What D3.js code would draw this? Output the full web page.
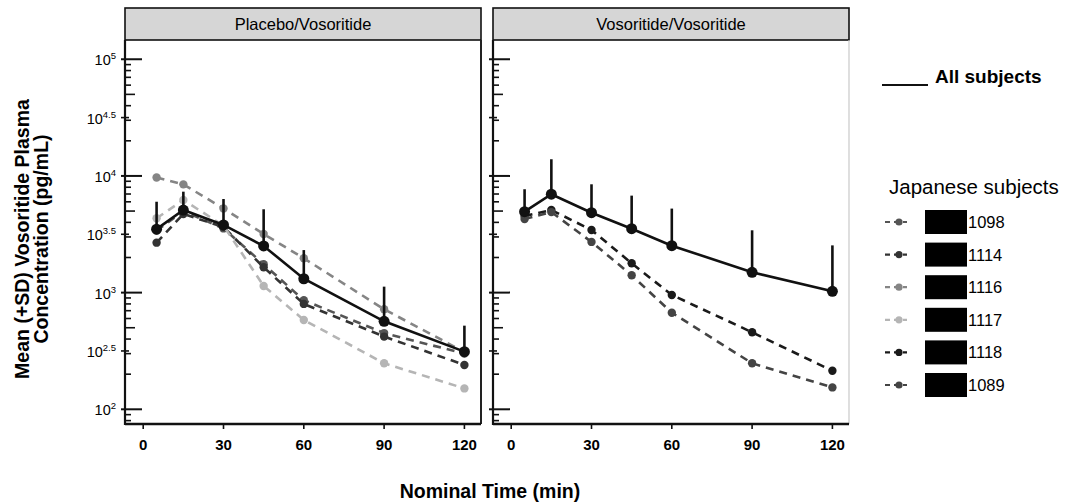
<!DOCTYPE html>
<html>
<head>
<meta charset="utf-8">
<script src="https://cdn.jsdelivr.net/npm/d3@7"></script>
<style>
  body { margin: 0; background: #fff; }
  svg { display: block; }
  text { font-family: "Liberation Sans", Arial, Helvetica, sans-serif; fill: #000; }
</style>
</head>
<body>
<svg id="chart" width="1067" height="504"></svg>
<script>
// Nominal sampling times (min)
const times = [5, 15, 30, 45, 60, 90, 120];

// Panel (treatment sequence) titles
const panelTitles = ["Placebo/Vosoritide", "Vosoritide/Vosoritide"];

// All subjects: mean and SD (pg/mL)
const meanPlacebo = [3500, 5100, 3800, 2510, 1315, 568, 312];
const sdPlacebo   = [2510, 2230, 2540, 2670, 1000, 557, 209];
const meanVosoritide = [4940, 6970, 4840, 3530, 2525, 1494, 1026];
const sdVosoritide   = [2750, 6930, 3640, 3250, 2725, 1926, 1514];

// Japanese subjects: individual concentrations (pg/mL)
const subjectIds = ["1098", "1114", "1116", "1117", "1118", "1089"];
const subjectPanel = [0, 0, 0, 0, 1, 1];
const conc1098 = [3400, 5000, 3550, 1750, 860, 450, 300];
const conc1114 = [2680, 4720, 3650, 1650, 800, 420, 240];
const conc1116 = [9700, 8470, 5260, 3180, 1970, 720, 310];
const conc1117 = [4340, 6220, 3750, 1140, 583, 248, 151];
const conc1118 = [4540, 5100, 3445, 1783, 955, 457, 214];
const conc1089 = [4280, 4900, 2720, 1409, 673, 248, 154];
const subjectColors = ["#555555", "#333333", "#858585", "#b5b5b5", "#1a1a1a", "#444444"];

// Axis ticks
const xTicks = [0, 30, 60, 90, 120];
const yLabelExponents = [2, 2.5, 3, 3.5, 4, 4.5, 5];

const subjectConc = [conc1098, conc1114, conc1116, conc1117, conc1118, conc1089];
const panelMeans = [meanPlacebo, meanVosoritide];
const panelSDs = [sdPlacebo, sdVosoritide];

const svg = d3.select("#chart");
svg.append("rect").attr("width", 1067).attr("height", 504).attr("fill", "#fff");

const plotTop = 40, plotBottom = 424, panelWidth = 356;
const panelLeft = [125, 493];
const stripTop = 8;

const y = d3.scaleLog().domain([Math.pow(10, 1.874), Math.pow(10, 5.165)]).range([plotBottom, plotTop]);

// log-axis minor ticks: 2..9 x 10^n inside the domain
const minorTicks = [];
for (let d = 1; d <= 4; d++) {
  for (let k = 2; k <= 9; k++) {
    const v = k * Math.pow(10, d);
    if (v >= y.domain()[0] && v <= y.domain()[1]) minorTicks.push(v);
  }
}
const decadeTicks = [100, 1000, 10000, 100000];

panelTitles.forEach((title, p) => {
  const x0 = panelLeft[p];
  const x = d3.scaleLinear().domain([-6.8, 126.2]).range([x0, x0 + panelWidth]);
  const g = svg.append("g");

  // strip header
  g.append("rect")
    .attr("x", x0).attr("y", stripTop)
    .attr("width", panelWidth).attr("height", plotTop - stripTop)
    .attr("fill", "#d6d6d6").attr("stroke", "#111").attr("stroke-width", 1.6);
  g.append("text")
    .attr("x", x0 + panelWidth / 2).attr("y", 30)
    .attr("text-anchor", "middle").attr("font-size", 16.5)
    .text(title);

  // panel frame: top/right thinner, left/bottom axis lines heavier
  g.append("line").attr("x1", x0 + panelWidth).attr("x2", x0 + panelWidth)
    .attr("y1", plotTop).attr("y2", plotBottom)
    .attr("stroke", p === 0 ? "#222" : "#c9c9c9").attr("stroke-width", p === 0 ? 2 : 1.2);
  g.append("line").attr("x1", x0).attr("x2", x0)
    .attr("y1", plotTop).attr("y2", plotBottom + 1)
    .attr("stroke", "#111").attr("stroke-width", 2.2);
  g.append("line").attr("x1", x0).attr("x2", x0 + panelWidth)
    .attr("y1", plotBottom).attr("y2", plotBottom)
    .attr("stroke", "#111").attr("stroke-width", 2.4);

  // y ticks
  g.selectAll(".ymaj").data(decadeTicks).join("line")
    .attr("x1", x0 - 4).attr("x2", x0 + 17)
    .attr("y1", d => y(d)).attr("y2", d => y(d))
    .attr("stroke", "#111").attr("stroke-width", 2);
  g.selectAll(".ymin").data(minorTicks).join("line")
    .attr("x1", x0).attr("x2", d => x0 + (Math.round(d / Math.pow(10, Math.floor(Math.log10(d) + 1e-9))) === 5 ? 10 : 6))
    .attr("y1", d => y(d)).attr("y2", d => y(d))
    .attr("stroke", "#111").attr("stroke-width", 1.6);
  g.selectAll(".yhalf").data(yLabelExponents.filter(e => e % 1 !== 0)).join("line")
    .attr("x1", x0 - 4).attr("x2", x0 + 4)
    .attr("y1", e => y(Math.pow(10, e))).attr("y2", e => y(Math.pow(10, e)))
    .attr("stroke", "#111").attr("stroke-width", 1.6);

  if (p === 0) {
    const lab = g.selectAll(".ylab").data(yLabelExponents).join("text")
      .attr("x", x0 - 9).attr("y", e => y(Math.pow(10, e)) + 6)
      .attr("text-anchor", "end").attr("font-size", 14.5);
    lab.append("tspan").text("10");
    lab.append("tspan").attr("font-size", 9.5).attr("dy", -6).text(e => String(e));
  }

  // x axis ticks and labels
  g.selectAll(".xt").data(xTicks).join("line")
    .attr("x1", d => x(d)).attr("x2", d => x(d))
    .attr("y1", plotBottom).attr("y2", plotBottom + 5)
    .attr("stroke", "#111").attr("stroke-width", 1.6);
  g.selectAll(".xl").data(xTicks).join("text")
    .attr("x", d => x(d)).attr("y", 450)
    .attr("text-anchor", "middle").attr("font-size", 15).attr("font-weight", "bold")
    .text(d => d);

  // Japanese subjects: dashed lines with points
  const line = d3.line().x((d, i) => x(times[i])).y(d => y(d));
  subjectIds.forEach((id, s) => {
    if (subjectPanel[s] !== p) return;
    g.append("path").datum(subjectConc[s])
      .attr("d", line).attr("fill", "none")
      .attr("stroke", subjectColors[s]).attr("stroke-width", 2.6)
      .attr("stroke-dasharray", "8,6");
    g.selectAll(null).data(subjectConc[s]).join("circle")
      .attr("cx", (d, i) => x(times[i])).attr("cy", d => y(d))
      .attr("r", 4.2).attr("fill", subjectColors[s]);
  });

  // All subjects: mean with +SD bars
  const means = panelMeans[p], sds = panelSDs[p];
  g.selectAll(null).data(means).join("line")
    .attr("x1", (d, i) => x(times[i])).attr("x2", (d, i) => x(times[i]))
    .attr("y1", d => y(d)).attr("y2", (d, i) => y(d + sds[i]))
    .attr("stroke", "#111").attr("stroke-width", 2.6);
  g.append("path").datum(means)
    .attr("d", line).attr("fill", "none")
    .attr("stroke", "#111").attr("stroke-width", 2.6);
  g.selectAll(null).data(means).join("circle")
    .attr("cx", (d, i) => x(times[i])).attr("cy", d => y(d))
    .attr("r", 5.5).attr("fill", "#111");
});

// axis titles
svg.append("text")
  .attr("x", 490).attr("y", 498)
  .attr("text-anchor", "middle").attr("font-size", 19.5).attr("font-weight", "bold")
  .text("Nominal Time (min)");
const yTitle = svg.append("text")
  .attr("transform", "translate(0,239) rotate(-90)")
  .attr("text-anchor", "middle").attr("font-size", 19.5).attr("font-weight", "bold");
yTitle.append("tspan").attr("x", 0).attr("y", 29).text("Mean (+SD) Vosoritide Plasma");
yTitle.append("tspan").attr("x", 0).attr("y", 48).text("Concentration (pg/mL)");

// legend
const lg = svg.append("g");
lg.append("line").attr("x1", 882).attr("x2", 928).attr("y1", 85).attr("y2", 85)
  .attr("stroke", "#111").attr("stroke-width", 2.2);
lg.append("text").attr("x", 935).attr("y", 83).attr("font-size", 19).attr("font-weight", "bold").text("All subjects");
lg.append("text").attr("x", 889).attr("y", 194).attr("font-size", 20.5).text("Japanese subjects");

const rowY = d3.scaleLinear().domain([0, subjectIds.length - 1]).range([222, 385]);
subjectIds.forEach((id, s) => {
  const yy = rowY(s);
  lg.append("line").attr("x1", 885).attr("x2", 907).attr("y1", yy).attr("y2", yy)
    .attr("stroke", subjectColors[s]).attr("stroke-width", 2.2).attr("stroke-dasharray", "5,4");
  lg.append("circle").attr("cx", 899).attr("cy", yy).attr("r", 3.6).attr("fill", subjectColors[s]);
  lg.append("rect").attr("x", 925).attr("y", yy - 12).attr("width", 42).attr("height", 24).attr("fill", "#000");
  lg.append("text").attr("x", 968).attr("y", yy + 6).attr("font-size", 16.5).text(id);
});
</script>
</body>
</html>
